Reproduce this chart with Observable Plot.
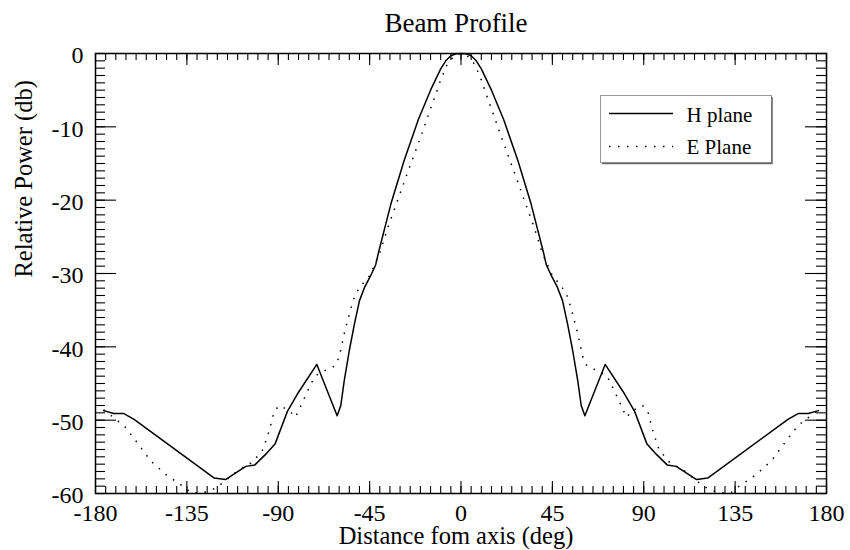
<!DOCTYPE html>
<html>
<head>
<meta charset="utf-8">
<script src="https://cdn.jsdelivr.net/npm/d3@7"></script>
<script src="https://cdn.jsdelivr.net/npm/@observablehq/plot@0.6"></script>
<style>
  html, body { margin: 0; padding: 0; background: white; }
  #wrap { position: relative; width: 850px; height: 550px; }
  #legend { position: absolute; left: 600px; top: 95px; }
</style>
</head>
<body>
<div id="wrap">
  <div id="chart"></div>
  <svg id="legend" width="174" height="70" font-family="'Liberation Serif', 'Times New Roman', serif" font-size="21">
    <rect x="0.5" y="0.5" width="171" height="67" fill="white" stroke="#999" stroke-width="1"></rect>
    <line x1="172" y1="2" x2="172" y2="69" stroke="#666" stroke-width="1.5"></line>
    <line x1="2" y1="68.5" x2="172" y2="68.5" stroke="#666" stroke-width="1.5"></line>
    <line x1="9" y1="18.5" x2="73" y2="18.5" stroke="black" stroke-width="1.5"></line>
    <text x="86.5" y="26.5" fill="black">H plane</text>
    <line x1="9" y1="51.5" x2="73" y2="51.5" stroke="black" stroke-width="1.5" stroke-dasharray="1.5,7.5"></line>
    <text x="86.5" y="58.5" fill="black">E Plane</text>
  </svg>
</div>
<script>
// ---- data ----
const hAngle = [-176,-171,-166,-161,-121.5,-116,-106,-101.5,-96,-91.5,-85.5,-80.5,-71,-61,-59.2,-57.5,-55,-52.5,-50,-47.5,-44.5,-42,-40.5,-34.5,-28,-21,-15,-10,-7.5,-5,-2.5,0,2.5,5,7.5,10,15,21,28,34.5,40.5,42,44.5,47.5,50,52.5,55,57.5,59.2,61,71,80.5,85.5,91.5,96,101.5,106,116,121.5,161,166,171,176];
const hPower = [-48.7,-49.1,-49.1,-49.9,-57.9,-58.1,-56.3,-56.1,-54.6,-53.2,-48.8,-46.4,-42.4,-49.4,-48.0,-44.6,-40.5,-36.9,-33.7,-31.9,-30.3,-28.8,-27.0,-20.5,-14.6,-9.0,-5.0,-2.1,-1.0,-0.3,-0.05,0,-0.05,-0.3,-1.0,-2.1,-5.0,-9.0,-14.6,-20.5,-27.0,-28.8,-30.3,-31.9,-33.7,-36.9,-40.5,-44.6,-48.0,-49.4,-42.4,-46.4,-48.8,-53.2,-54.6,-56.1,-56.3,-58.1,-57.9,-49.9,-49.1,-49.1,-48.7];

const eAngle = [-176,-173.5,-169.5,-166,-161,-153,-145,-137,-133,-127,-122,-118,-110,-102.5,-97.5,-94.5,-92,-89.5,-84.5,-81.5,-75.5,-72,-67.5,-62,-60,-57.5,-54.5,-52,-49,-45,-40,-36,-33,-26,-20,-16.5,-13,-10,-7,-5,-2.5,0,2.5,5,7,10,13,16.5,20,26,33,36,40,45,49,52,54.5,57.5,60,62,67.5,72,75.5,81.5,84.5,89.5,92,94.5,97.5,102.5,110,118,122,127,133,137,145,153,161,166,169.5,173.5,176];
const ePower = [-48.6,-49.1,-50.0,-50.7,-52.5,-55.5,-57.5,-59.0,-59.9,-59.9,-59.4,-58.7,-56.9,-55.7,-54.0,-51.5,-48.8,-48.0,-48.7,-49.6,-46.0,-44.0,-43.3,-42.6,-41.4,-38.2,-35.0,-32.8,-31.6,-30.3,-27.2,-23.7,-21.4,-16.0,-11.5,-8.7,-6.0,-3.6,-1.6,-0.8,-0.2,0,-0.2,-0.8,-1.6,-3.6,-6.0,-8.7,-11.5,-16.0,-21.4,-23.7,-27.2,-30.3,-31.6,-32.8,-35.0,-38.2,-41.4,-42.6,-43.3,-44.0,-46.0,-49.6,-48.7,-48.0,-48.8,-51.5,-54.0,-55.7,-56.9,-58.7,-59.4,-59.9,-59.9,-59.0,-57.5,-55.5,-52.5,-50.7,-50.0,-49.1,-48.6];

const xTicks = [-180,-135,-90,-45,0,45,90,135,180];
const xTickLabels = ["-180","-135","-90","-45","0","45","90","135","180"];
const yTicks = [0,-10,-20,-30,-40,-50,-60];
const yTickLabels = ["0","-10","-20","-30","-40","-50","-60"];
const xMinor = d3.range(-180, 181, 5);
const yMinor = d3.range(-60, 1, 1);

const title = "Beam Profile";
const xLabel = "Distance fom axis (deg)";
const yLabel = "Relative Power (db)";

// ---- layout ----
const W = 850, H = 550;
const mL = 95, mR = 24, mT = 53, mB = 57;
const plotW = W - mL - mR, plotH = H - mT - mB;

const hData = hAngle.map((a, i) => ({a, p: hPower[i]}));
const eData = eAngle.map((a, i) => ({a, p: ePower[i]}));

const xMajLen = 12, xMinLen = 7, yMajLen = 21, yMinLen = 10;
const tickStyle = {stroke: "black", strokeWidth: 1.1};

const chart = Plot.plot({
  width: W, height: H,
  marginLeft: mL, marginRight: mR, marginTop: mT, marginBottom: mB,
  x: {domain: [-180, 180], axis: null},
  y: {domain: [-60, 0], axis: null},
  style: {fontFamily: "'Liberation Serif', 'Times New Roman', serif", fontSize: "24px", color: "black", background: "white"},
  marks: [
    // minor ticks
    Plot.tickX(xMinor, {x: d => d, insetTop: plotH - xMinLen, ...tickStyle}),
    Plot.tickX(xMinor, {x: d => d, insetBottom: plotH - xMinLen, ...tickStyle}),
    Plot.tickY(yMinor, {y: d => d, insetRight: plotW - yMinLen, ...tickStyle}),
    Plot.tickY(yMinor, {y: d => d, insetLeft: plotW - yMinLen, ...tickStyle}),
    // major ticks
    Plot.tickX(xTicks, {x: d => d, insetTop: plotH - xMajLen, ...tickStyle}),
    Plot.tickX(xTicks, {x: d => d, insetBottom: plotH - xMajLen, ...tickStyle}),
    Plot.tickY(yTicks, {y: d => d, insetRight: plotW - yMajLen, ...tickStyle}),
    Plot.tickY(yTicks, {y: d => d, insetLeft: plotW - yMajLen, ...tickStyle}),
    // data
    Plot.line(hData, {x: "a", y: "p", stroke: "black", strokeWidth: 1.5}),
    Plot.line(eData, {x: "a", y: "p", stroke: "black", strokeWidth: 1.5, strokeDasharray: "1.5,7.5", strokeLinecap: "butt"}),
    Plot.frame({stroke: "black", strokeWidth: 1.5}),
    // tick labels
    Plot.text(xTicks, {x: d => d, frameAnchor: "bottom", dy: 20, text: (d, i) => xTickLabels[i], textAnchor: "middle", lineAnchor: "middle", fontSize: 24}),
    Plot.text(yTicks, {y: d => d, frameAnchor: "left", dx: -12, dy: 2, text: (d, i) => yTickLabels[i], textAnchor: "end", lineAnchor: "middle", fontSize: 24}),
    // titles
    Plot.text([title], {frameAnchor: "top", dx: -5, dy: -30, text: d => d, lineAnchor: "middle", fontSize: 27}),
    Plot.text([xLabel], {frameAnchor: "bottom", dx: -5, dy: 43, text: d => d, lineAnchor: "middle", fontSize: 24.5}),
    Plot.text([yLabel], {frameAnchor: "left", dx: -71, dy: 4, rotate: -90, text: d => d, lineAnchor: "middle", fontSize: 24.5})
  ]
});
document.getElementById("chart").appendChild(chart);
</script>
</body>
</html>
